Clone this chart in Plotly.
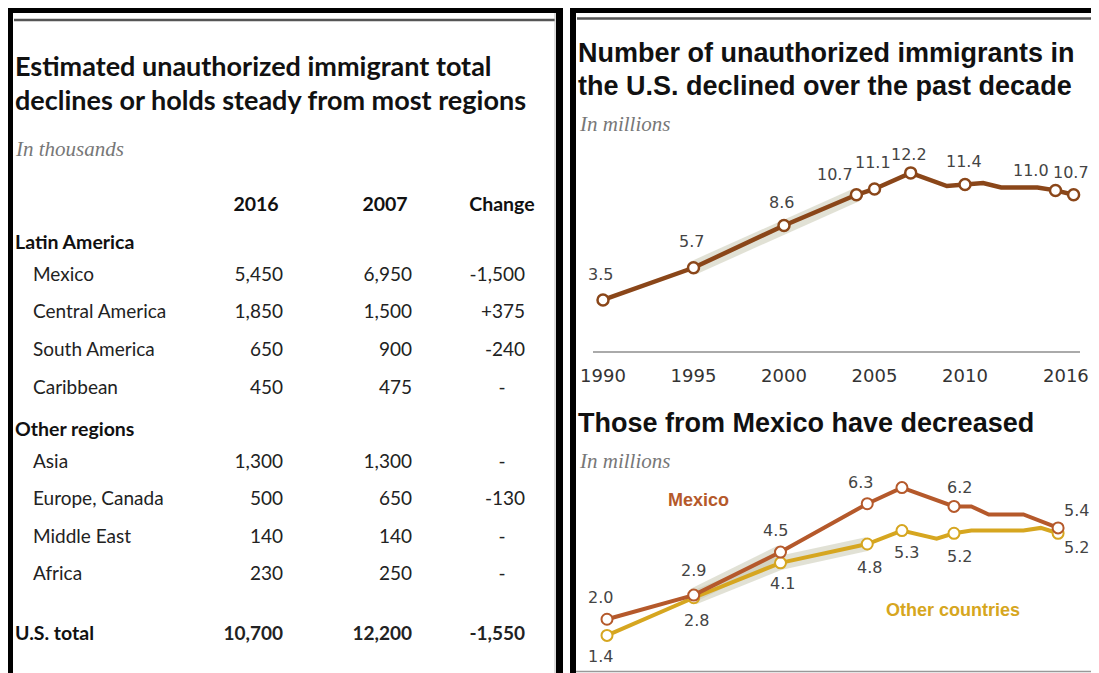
import plotly.graph_objects as go

# ---------------- data: table ----------------
TABLE_TITLE = ["Estimated unauthorized immigrant total",
               "declines or holds steady from most regions"]
TABLE_SUBTITLE = "In thousands"
COL_HEADERS = ["2016", "2007", "Change"]
GROUPS = ["Latin America", "Other regions"]
REGIONS = ["Mexico", "Central America", "South America", "Caribbean",
           "Asia", "Europe, Canada", "Middle East", "Africa"]
REGION_GROUP = ["Latin America", "Latin America", "Latin America", "Latin America",
                "Other regions", "Other regions", "Other regions", "Other regions"]
VAL_2016 = [5450, 1850, 650, 450, 1300, 500, 140, 230]
VAL_2007 = [6950, 1500, 900, 475, 1300, 650, 140, 250]
CHANGE = [-1500, 375, -240, None, None, -130, None, None]
TOTAL_LABEL = "U.S. total"
TOTAL_2016 = 10700
TOTAL_2007 = 12200
TOTAL_CHANGE = -1550

# ---------------- data: total chart ----------------
TOP_TITLE = ["Number of unauthorized immigrants in",
             "the U.S. declined over the past decade"]
TOP_SUBTITLE = "In millions"
TOTAL_YEARS = [1990, 1995, 2000, 2004, 2005, 2007, 2009, 2010, 2011, 2012, 2014, 2015, 2016]
TOTAL_VALUES = [3.5, 5.7, 8.6, 10.7, 11.1, 12.2, 11.3, 11.4, 11.5, 11.2, 11.2, 11.0, 10.7]
TOTAL_MARKER_YEARS = [1990, 1995, 2000, 2004, 2005, 2007, 2010, 2015, 2016]
TOTAL_BAND_YEARS = [1995, 2000, 2004]
X_TICK_YEARS = [1990, 1995, 2000, 2005, 2010, 2016]

# ---------------- data: Mexico vs other ----------------
BOTTOM_TITLE = "Those from Mexico have decreased"
BOTTOM_SUBTITLE = "In millions"
MEX_NAME = "Mexico"
MEX_YEARS = [1990, 1995, 2000, 2005, 2007, 2010, 2011, 2012, 2014, 2016]
MEX_VALUES = [2.0, 2.9, 4.5, 6.3, 6.9, 6.2, 6.2, 5.9, 5.9, 5.4]
MEX_MARKER_YEARS = [1990, 1995, 2000, 2005, 2007, 2010, 2016]
MEX_LABEL_YEARS = [1990, 1995, 2000, 2005, 2010, 2016]
MEX_BAND_YEARS = [1995, 2000]
OTH_NAME = "Other countries"
OTH_YEARS = [1990, 1995, 2000, 2005, 2007, 2009, 2010, 2011, 2014, 2015, 2016]
OTH_VALUES = [1.4, 2.8, 4.1, 4.8, 5.3, 5.0, 5.2, 5.3, 5.3, 5.4, 5.2]
OTH_MARKER_YEARS = [1990, 1995, 2000, 2005, 2007, 2010, 2016]
OTH_LABEL_YEARS = [1990, 1995, 2000, 2005, 2007, 2010, 2016]
OTH_BAND_YEARS = [1995, 2000, 2005]

# ---------------- styles / layout constants ----------------
NARROW = "Lato, Roboto, sans-serif"
SANS = "Liberation Sans, Arial, sans-serif"
LABEL_FONT = "DejaVu Sans, Verdana, sans-serif"
SERIF_IT = "Liberation Serif, Georgia, serif"
C_TOTAL = "#8a4619"
C_MEX = "#b5592b"
C_OTH = "#d6a620"
C_BAND = "rgba(200,200,178,0.55)"
C_LABEL = "#444444"
TICK_FONT = dict(family=LABEL_FONT, size=18, color="#333333")

# Screen is 1099x673; the page body adds an 8px margin, so the figure is made
# 8px smaller and all anchors below are given in screen px.
SCREEN_W, SCREEN_H = 1099, 673
OFF = 8
FW, FH = SCREEN_W - OFF, SCREEN_H - OFF


def fx(px):
    return (px - OFF) / FW


def fy(py):
    return (FH - (py - OFF)) / FH


# table geometry (screen px)
LBL_GROUP_X = 15
LBL_ITEM_X = 33
COL_RIGHT = [283, 412, 525]
COL_CENTER = [256, 385, 502]
HEADER_Y = 206
GAP_HEADER_GROUP = 38
GAP_GROUP_ITEM = 32
GAP_ITEM = 37.6
GAP_ITEM_GROUP = 42
GAP_TOTAL = 60

# chart geometry (screen px anchors)
TOP_X_PX = (593, 1080)
TOP_X0_PX, TOP_PX_PER_YEAR = 603, 18.1
TOP_Y0_PX, TOP_PX_PER_UNIT = 351, 14.6
TOP_TOP_PX = 140
BOT_X_PX = (590, 1092)
BOT_X0_PX, BOT_PX_PER_YEAR = 607, 17.35
BOT_Y0_PX, BOT_PX_PER_UNIT = 673, 26.87
BOT_TOP_PX = 470
TICK_LEN = 8
LAST_TICK_SHIFT = (-8, -24)   # last year label sits a little left of its tick, as in the original

# label offsets (xshift, yshift) in pixels, by year
TOP_LABEL_SHIFT = {1990: (-2, 25), 1995: (-2, 26), 2000: (-2, 23), 2004: (-21, 20),
                   2005: (-1, 26), 2007: (-2, 18), 2010: (-1, 23), 2015: (-25, 20),
                   2016: (-3, 22)}
MEX_LABEL_SHIFT = {1990: (-7, 22), 1995: (0, 25), 2000: (-5, 22), 2005: (-7, 21),
                   2010: (5, 19), 2016: (18, 17)}
OTH_LABEL_SHIFT = {1990: (-7, -21), 1995: (3, -23), 2000: (2, -21), 2005: (2, -23),
                   2007: (5, -22), 2010: (5, -23), 2016: (18, -14)}


def fmt_num(v):
    return f"{v:,}"


def fmt_change(v):
    if v is None:
        return "-"
    return f"+{v:,}" if v > 0 else f"-{abs(v):,}"


def lookup(years, values, wanted):
    d = dict(zip(years, values))
    return [d[y] for y in wanted]


fig = go.Figure()

# ================= TABLE (overlay axis x/y in screen px) =================
grp_txt, grp_y = [], []
item_txt, item_y = [], []
c16_txt, c07_txt = [], []
chg_txt, chg_y = [], []
dash_y = []
y = HEADER_Y
prev = "header"
for g in GROUPS:
    y += GAP_HEADER_GROUP if prev == "header" else GAP_ITEM_GROUP
    grp_txt.append(f"<b>{g}</b>")
    grp_y.append(y)
    prev = "group"
    for i, r in enumerate(REGIONS):
        if REGION_GROUP[i] != g:
            continue
        y += GAP_GROUP_ITEM if prev == "group" else GAP_ITEM
        prev = "item"
        item_txt.append(r)
        item_y.append(y)
        c16_txt.append(fmt_num(VAL_2016[i]))
        c07_txt.append(fmt_num(VAL_2007[i]))
        if CHANGE[i] is None:
            dash_y.append(y)
        else:
            chg_txt.append(fmt_change(CHANGE[i]))
            chg_y.append(y)
y += GAP_TOTAL
total_y = y

tfont = dict(family=NARROW, size=19, color="#222222")
tfont_b = dict(family=NARROW, size=19.5, color="#111111")


def text_trace(xs, ys, texts, pos, font):
    fig.add_trace(go.Scatter(x=xs, y=ys, text=texts, mode="text", textposition=pos,
                             textfont=font, xaxis="x", yaxis="y", hoverinfo="skip",
                             showlegend=False, cliponaxis=False))


text_trace([LBL_GROUP_X] * (len(grp_txt) + 1), grp_y + [total_y],
           grp_txt + [f"<b>{TOTAL_LABEL}</b>"], "middle right", tfont_b)
text_trace([LBL_ITEM_X] * len(item_txt), item_y, item_txt, "middle right", tfont)
text_trace([COL_RIGHT[0]] * (len(c16_txt) + 1), item_y + [total_y],
           c16_txt + [f"<b>{fmt_num(TOTAL_2016)}</b>"], "middle left", tfont)
text_trace([COL_RIGHT[1]] * (len(c07_txt) + 1), item_y + [total_y],
           c07_txt + [f"<b>{fmt_num(TOTAL_2007)}</b>"], "middle left", tfont)
text_trace([COL_RIGHT[2]] * (len(chg_txt) + 1), chg_y + [total_y],
           chg_txt + [f"<b>{fmt_change(TOTAL_CHANGE)}</b>"], "middle left", tfont)
text_trace([COL_CENTER[2]] * len(dash_y), dash_y, [fmt_change(None)] * len(dash_y),
           "middle center", tfont)
text_trace(COL_CENTER, [HEADER_Y] * len(COL_HEADERS), [f"<b>{h}</b>" for h in COL_HEADERS],
           "middle center", tfont_b)

# ================= TOP CHART (x2/y2) =================
band_vals = lookup(TOTAL_YEARS, TOTAL_VALUES, TOTAL_BAND_YEARS)
fig.add_trace(go.Scatter(x=TOTAL_BAND_YEARS, y=band_vals, mode="lines",
                         line=dict(color=C_BAND, width=14), xaxis="x2", yaxis="y2",
                         hoverinfo="skip", showlegend=False))
fig.add_trace(go.Scatter(x=TOTAL_YEARS, y=TOTAL_VALUES, mode="lines",
                         line=dict(color=C_TOTAL, width=4.5), xaxis="x2", yaxis="y2",
                         showlegend=False))
mk_vals = lookup(TOTAL_YEARS, TOTAL_VALUES, TOTAL_MARKER_YEARS)
fig.add_trace(go.Scatter(x=TOTAL_MARKER_YEARS, y=mk_vals, mode="markers",
                         marker=dict(size=11, color="white", line=dict(color=C_TOTAL, width=2.5)),
                         xaxis="x2", yaxis="y2", showlegend=False, cliponaxis=False))

annotations = []
for yr, v in zip(TOTAL_MARKER_YEARS, mk_vals):
    dx, dy = TOP_LABEL_SHIFT[yr]
    annotations.append(dict(x=yr, y=v, xref="x2", yref="y2", text=f"{v:.1f}", showarrow=False,
                            xshift=dx, yshift=dy, font=dict(family=LABEL_FONT, size=16, color=C_LABEL)))

# the last year's tick label is nudged left of its tick (as in the original)
annotations.append(dict(x=X_TICK_YEARS[-1], y=0, xref="x2", yref="y2", text=str(X_TICK_YEARS[-1]),
                        showarrow=False, xanchor="center", yanchor="middle",
                        xshift=LAST_TICK_SHIFT[0], yshift=LAST_TICK_SHIFT[1], font=TICK_FONT))

# ================= BOTTOM CHART (x3/y3) =================
for yrs, vals, band_years in ((MEX_YEARS, MEX_VALUES, MEX_BAND_YEARS),
                              (OTH_YEARS, OTH_VALUES, OTH_BAND_YEARS)):
    fig.add_trace(go.Scatter(x=band_years, y=lookup(yrs, vals, band_years), mode="lines",
                             line=dict(color=C_BAND, width=14), xaxis="x3", yaxis="y3",
                             hoverinfo="skip", showlegend=False))

for name, yrs, vals, mk_years, lbl_years, shifts, col in (
        (OTH_NAME, OTH_YEARS, OTH_VALUES, OTH_MARKER_YEARS, OTH_LABEL_YEARS, OTH_LABEL_SHIFT, C_OTH),
        (MEX_NAME, MEX_YEARS, MEX_VALUES, MEX_MARKER_YEARS, MEX_LABEL_YEARS, MEX_LABEL_SHIFT, C_MEX)):
    fig.add_trace(go.Scatter(x=yrs, y=vals, mode="lines", name=name,
                             line=dict(color=col, width=4), xaxis="x3", yaxis="y3",
                             showlegend=False, cliponaxis=False))
    fig.add_trace(go.Scatter(x=mk_years, y=lookup(yrs, vals, mk_years), mode="markers",
                             marker=dict(size=11, color="white", line=dict(color=col, width=2)),
                             xaxis="x3", yaxis="y3", showlegend=False, cliponaxis=False))
    for yr, v in zip(lbl_years, lookup(yrs, vals, lbl_years)):
        dx, dy = shifts[yr]
        annotations.append(dict(x=yr, y=v, xref="x3", yref="y3", text=f"{v:.1f}", showarrow=False,
                                xshift=dx, yshift=dy,
                                font=dict(family=LABEL_FONT, size=16, color=C_LABEL)))


# ================= titles / text =================
def txt(px, py, text, font, xanchor="left"):
    annotations.append(dict(x=px, y=py, xref="x", yref="y", text=text, showarrow=False,
                            xanchor=xanchor, yanchor="middle", font=font))


txt(13, 65, f"<b>{TABLE_TITLE[0]}</b>", dict(family=NARROW, size=27, color="#111111"))
txt(13, 99, f"<b>{TABLE_TITLE[1]}</b>", dict(family=NARROW, size=27, color="#111111"))
txt(13, 149, f"<i>{TABLE_SUBTITLE}</i>", dict(family=SERIF_IT, size=21, color="#777777"))

txt(576, 53, f"<b>{TOP_TITLE[0]}</b>", dict(family=SANS, size=27, color="#111111"))
txt(576, 86, f"<b>{TOP_TITLE[1]}</b>", dict(family=SANS, size=27, color="#111111"))
txt(577, 124, f"<i>{TOP_SUBTITLE}</i>", dict(family=SERIF_IT, size=21, color="#777777"))

txt(576, 423, f"<b>{BOTTOM_TITLE}</b>", dict(family=SANS, size=27, color="#111111"))
txt(577, 461, f"<i>{BOTTOM_SUBTITLE}</i>", dict(family=SERIF_IT, size=21, color="#777777"))

txt(698, 500, f"<b>{MEX_NAME}</b>", dict(family=SANS, size=18, color=C_MEX), xanchor="center")
txt(953, 610, f"<b>{OTH_NAME}</b>", dict(family=SANS, size=18, color=C_OTH), xanchor="center")

# ================= frame shapes (overlay axis, screen px) =================
shapes = []
R, B = OFF + FW, OFF + FH


def rect(x0, y0, x1, y1, color):
    shapes.append(dict(type="rect", xref="x", yref="y", x0=x0, y0=y0, x1=x1, y1=y1,
                       fillcolor=color, line=dict(width=0), layer="above"))


def hline(x0, x1, yy, color, width):
    shapes.append(dict(type="line", xref="x", yref="y", x0=x0, x1=x1, y0=yy, y1=yy,
                       line=dict(color=color, width=width), layer="above"))


rect(7, 7, 13, B, "#000000")
rect(7, 7, 563, 13, "#000000")
rect(556, 7, 563, B, "#000000")
rect(570, 7, 576, B, "#000000")
rect(570, 7, R, 13, "#000000")
hline(14, 555, 20, "#555555", 2.5)
hline(577, R, 18.5, "#555555", 2.5)
hline(576, R, 671.5, "#999999", 1.5)
shapes.append(dict(type="line", xref="x", yref="y", x0=555, x1=555, y0=13, y1=B,
                   line=dict(color="#bbbbbb", width=1), layer="above"))

# ================= axes =================
top_range = [1990 + (TOP_X_PX[0] - TOP_X0_PX) / TOP_PX_PER_YEAR,
             1990 + (TOP_X_PX[1] - TOP_X0_PX) / TOP_PX_PER_YEAR]
top_yrange = [0, (TOP_Y0_PX - TOP_TOP_PX) / TOP_PX_PER_UNIT]
bot_range = [1990 + (BOT_X_PX[0] - BOT_X0_PX) / BOT_PX_PER_YEAR,
             1990 + (BOT_X_PX[1] - BOT_X0_PX) / BOT_PX_PER_YEAR]
bot_yrange = [0, (BOT_Y0_PX - BOT_TOP_PX) / BOT_PX_PER_UNIT]

axis_ticks = X_TICK_YEARS[:-1]   # last one is drawn by the nudged annotation above

hidden = dict(visible=False, showgrid=False, zeroline=False, fixedrange=True, automargin=False)

fig.update_layout(
    width=FW, height=FH,
    margin=dict(l=0, r=0, t=0, b=0, pad=0, autoexpand=False),
    paper_bgcolor="white", plot_bgcolor="rgba(0,0,0,0)",
    showlegend=False,
    xaxis=dict(domain=[0, 1], range=[OFF, OFF + FW], **hidden),
    yaxis=dict(domain=[0, 1], range=[OFF + FH, OFF], **hidden),
    xaxis2=dict(domain=[fx(TOP_X_PX[0]), fx(TOP_X_PX[1])], range=top_range, anchor="y2",
                showgrid=False, zeroline=False, showline=True, linecolor="#aaaaaa", linewidth=1.5,
                tickvals=axis_ticks, ticktext=[str(t) for t in axis_ticks],
                ticks="outside", ticklen=TICK_LEN, tickcolor="rgba(0,0,0,0)", automargin=False,
                tickfont=TICK_FONT, fixedrange=True),
    yaxis2=dict(domain=[fy(TOP_Y0_PX), fy(TOP_TOP_PX)], range=top_yrange, anchor="x2", **hidden),
    xaxis3=dict(domain=[fx(BOT_X_PX[0]), fx(BOT_X_PX[1])], range=bot_range, anchor="y3", **hidden),
    yaxis3=dict(domain=[fy(BOT_Y0_PX), fy(BOT_TOP_PX)], range=bot_yrange, anchor="x3", **hidden),
    annotations=annotations,
    shapes=shapes,
)

fig.write_html("out.html")
